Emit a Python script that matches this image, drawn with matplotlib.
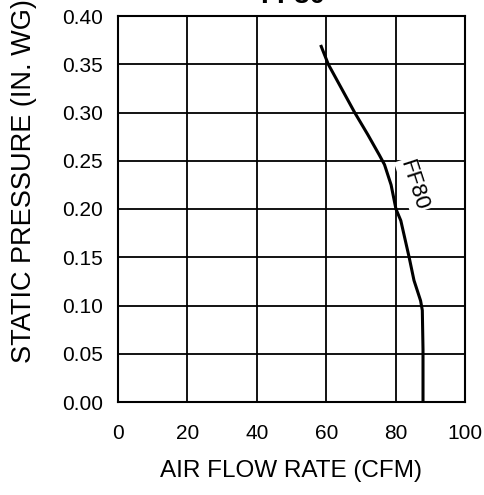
import numpy as np
import matplotlib.pyplot as plt

plt.rcParams['font.family'] = ['Liberation Sans', 'DejaVu Sans']

### FF80 fan curve
flow = [58.4, 60.6, 64.4, 68.2, 72.0, 75.3, 76.8, 78.7, 80.1, 81.5, 83.9, 85.3, 87.2, 87.7, 87.9, 87.9]
pressure = [0.370, 0.350, 0.325, 0.300, 0.277, 0.256, 0.246, 0.225, 0.200, 0.188, 0.150, 0.126, 0.105, 0.095, 0.054, 0.0]
x_ticks = [0, 20, 40, 60, 80, 100]
y_ticks = [0.00, 0.05, 0.10, 0.15, 0.20, 0.25, 0.30, 0.35, 0.40]
curve_name = 'FF80'

fig = plt.figure(figsize=(4.84, 4.95), dpi=100)
ax = fig.add_axes([118/484, 1 - 402/495, 347/484, 386/495])

ax.plot(flow, pressure, 'k', lw=2.2, solid_capstyle='butt')
ax.set_xlim(0, 100)
ax.set_ylim(0, 0.40)
ax.set_xticks(x_ticks)
ax.set_yticks(y_ticks)
ax.set_yticklabels(['%.2f' % v for v in y_ticks])
ax.grid(True, color='k', lw=1.3)
ax.tick_params(length=0, labelsize=15, pad=11)
ax.tick_params(axis='x', pad=16)
for s in ax.spines.values():
    s.set_linewidth(1.5)

ax.text(85.2, 0.225, curve_name, rotation=-72, ha='center', va='center', fontsize=16,
        bbox=dict(facecolor='white', edgecolor='none', pad=1))

ax.set_xlabel('AIR FLOW RATE (CFM)', fontsize=17.5, labelpad=12)
fig.text(24/484, 1 - 363/495, 'STATIC PRESSURE (IN. WG)', rotation=90, ha='center', va='bottom', fontsize=19.5)
fig.text(293/484, 1 - 3/495, curve_name, ha='center', va='baseline', fontsize=20, fontweight='bold')

plt.savefig('out.png')
